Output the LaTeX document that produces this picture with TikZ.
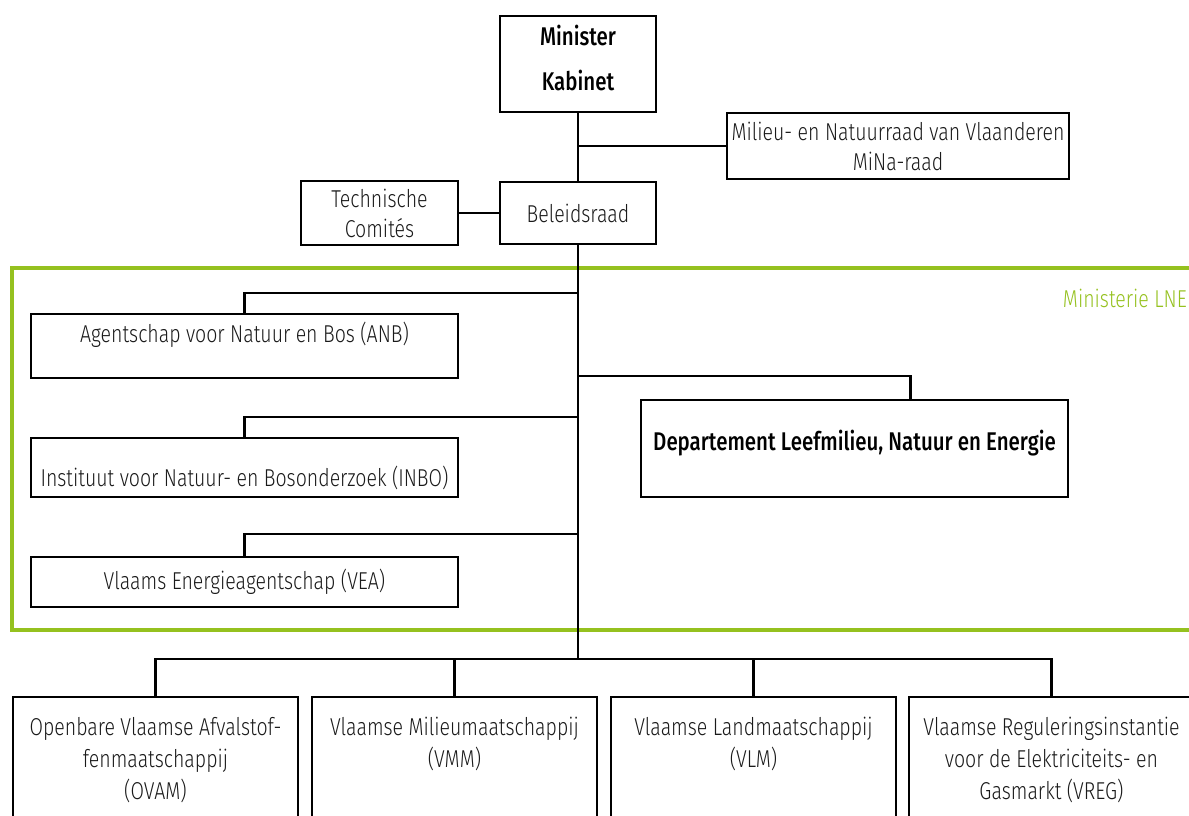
\documentclass[tikz,border=0pt]{standalone}
\usepackage{fontspec}
\setmainfont{Fira Sans Light}[FakeStretch=0.8,
  BoldFont={Fira Sans Medium}, BoldFeatures={FakeStretch=0.8}]
\usetikzlibrary{calc}
\definecolor{lnegreen}{HTML}{95C11F}
\definecolor{inkgray}{HTML}{1A1A1A}
\newcommand{\lnefont}{\fontsize{24.4}{30}\selectfont}
\newcommand{\lnebold}{\fontsize{25.6}{45}\selectfont\bfseries}
\tikzset{
  box/.style={draw, line width=2.8pt, rectangle, inner sep=0pt,
              font=\lnefont, align=center, text=inkgray},
  lbl/.style={font=\lnefont, align=center, inner sep=0pt, text=inkgray},
  low/.style={lbl, anchor=north, font=\fontsize{24.4}{32}\selectfont},
  link/.style={line width=2.8pt},
}

\begin{document}
\begin{tikzpicture}[x=1pt, y=-1pt]
\clip (0,0) rectangle (1189,816);

% Ministerie LNE frame
\draw[lnegreen, line width=4.5pt] (12,268) rectangle (1210,630);
\node[lbl, anchor=east, text=lnegreen] (lne) at (1187,298) {Ministerie LNE};

% top level
\node[box, minimum width=156, minimum height=96] (minister) at (578,64) {};
\node[lbl, font=\lnebold, text=black] (ministertxt) at (578,58) {Minister\\Kabinet};
\node[box, minimum width=156, minimum height=62] (beleid) at (578,213) {Beleidsraad};
\node[box, minimum width=157, minimum height=64] (tech) at (379.5,213) {Technische\\Comit\'es};
\node[box, minimum width=342, minimum height=66] (mina) at (898,146) {Milieu- en Natuurraad van Vlaanderen\\MiNa-raad};

% inside the ministry
\node[box, minimum width=427, minimum height=64] (anb) at (244.5,346) {};
\node[lbl] (anbtxt) at (244.5,335) {Agentschap voor Natuur en Bos (ANB)};
\node[box, minimum width=427, minimum height=59] (inbo) at (244.5,467.5) {};
\node[lbl] (inbotxt) at (244.5,478) {Instituut voor Natuur- en Bosonderzoek (INBO)};
\node[box, minimum width=427, minimum height=50] (vea) at (244.5,582) {Vlaams Energieagentschap (VEA)};
\node[box, minimum width=427, minimum height=97] (dep) at (854.5,448.5) {};
\node[lbl, font=\lnebold, text=black] (deptxt) at (854.5,443) {Departement Leefmilieu, Natuur en Energie};

% agencies below
\node[box, minimum width=285, minimum height=143] (ovam) at (155.5,768.5) {};
\node[box, minimum width=285, minimum height=143] (vmm) at (454.5,768.5) {};
\node[box, minimum width=285, minimum height=143] (vlm) at (753.5,768.5) {};
\node[box, minimum width=285, minimum height=143] (vreg) at (1051.5,768.5) {};
\node[low] (ovamtxt) at (155.5,717) {Openbare Vlaamse Afvalstof-\\fenmaatschappij\\(OVAM)};
\node[low] (vmmtxt) at (454.5,717) {Vlaamse Milieumaatschappij\\(VMM)};
\node[low] (vlmtxt) at (753.5,717) {Vlaamse Landmaatschappij\\(VLM)};
\node[low] (vregtxt) at (1051.5,717) {Vlaamse Reguleringsinstantie\\voor de Elektriciteits- en\\Gasmarkt (VREG)};

% junctions on the trunk
\coordinate (janb) at (578,293);
\coordinate (jdep) at (578,376);
\coordinate (jinbo) at (578,417);
\coordinate (jvea) at (578,534);
\coordinate (bus) at (578,659);

% connectors
\draw[link] (minister) -- (beleid);
\draw[link] (minister.south |- mina.west) -- (mina.west);
\draw[link] (tech) -- (beleid);
\draw[link] (beleid) -- (bus);
\foreach \n in {anb,inbo,vea}
  \draw[link] (j\n) -| (\n.north);
\draw[link] (jdep) -| ($(dep.north west)!0.63!(dep.north east)$);
\draw[link] (ovam.north) |- (bus) -| (vreg.north);
\foreach \n in {vmm,vlm}
  \draw[link] (\n.north) -- (\n.north |- bus);
\end{tikzpicture}
\end{document}
